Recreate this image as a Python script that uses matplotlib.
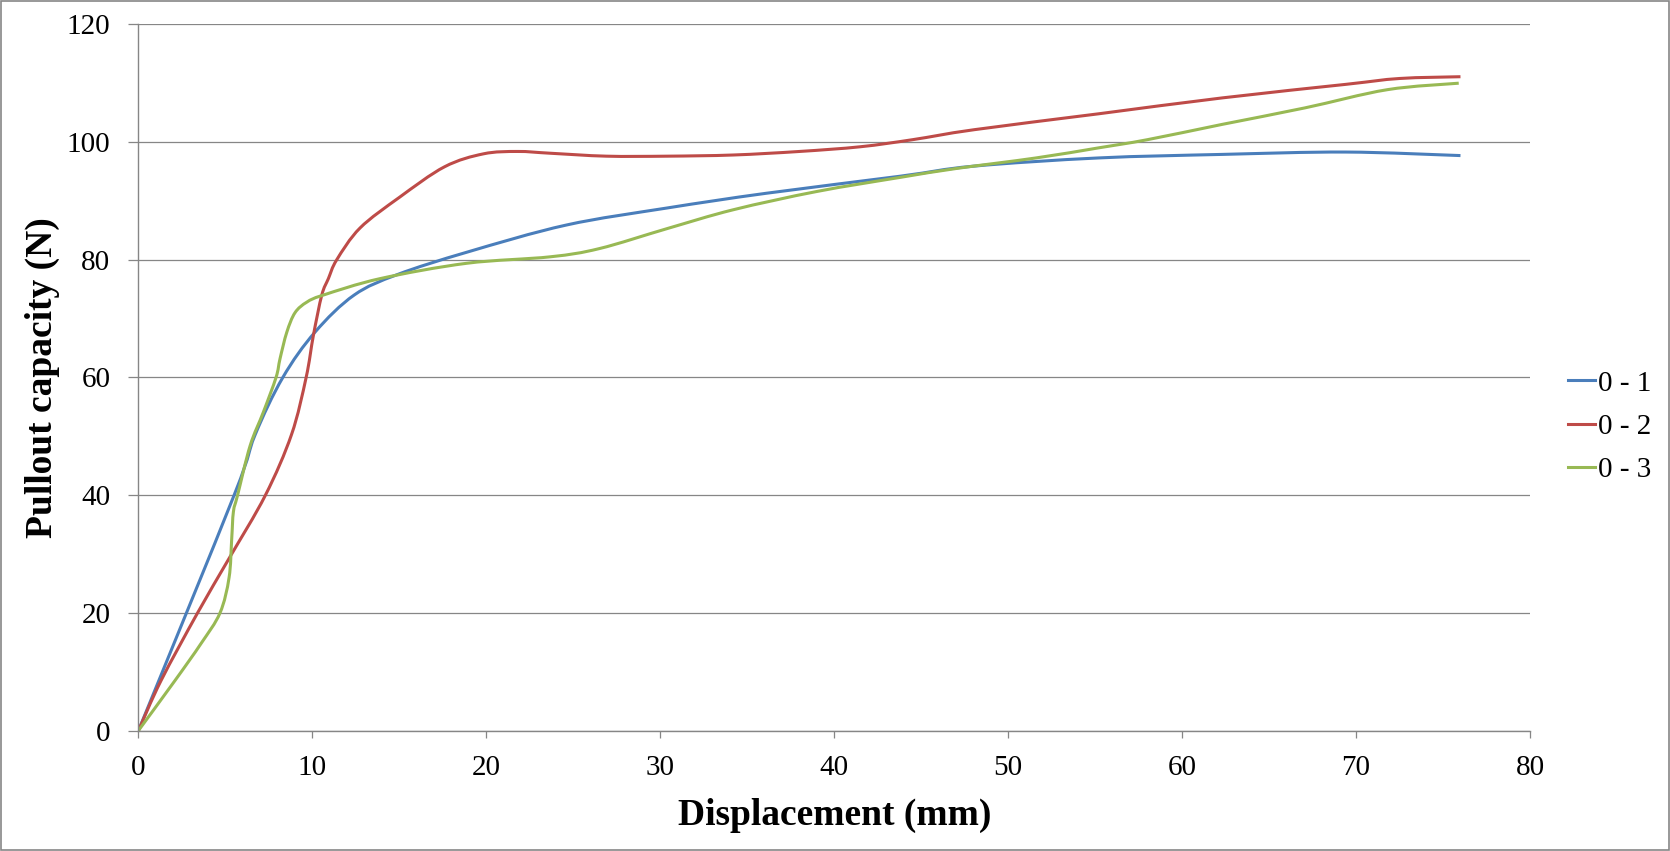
import matplotlib
matplotlib.use("Agg")
import matplotlib.pyplot as plt
from matplotlib.patches import Rectangle, PathPatch
from matplotlib.path import Path
from matplotlib.lines import Line2D

plt.rcParams['font.family'] = ['Liberation Serif', 'DejaVu Serif']

x_01 = [0, 5.5, 6.7, 8.3, 10.15, 12.4, 14.9, 18.9, 24.6, 30.4, 36.1, 43.8,
        48.0, 55.2, 62.3, 69.4, 76.0]
y_01 = [0, 40, 50.2, 60, 67.7, 74, 77.5, 81.3, 85.9, 88.8, 91.3, 94.2,
        95.9, 97.3, 97.9, 98.3, 97.7]

x_02 = [0, 1.3, 3.4, 5.2, 7.3, 8.8, 9.64, 10.06, 10.54, 10.92, 11.4, 12.74, 15.0,
        17.6, 19.84, 21.8, 23.67, 26.9, 30.4, 34.2, 38.0, 41.5, 44.5, 48.05, 55.2,
        62.3, 69.4, 72.5, 76.0]
y_02 = [0, 8.5, 20, 29.2, 40, 50.3, 60, 67.2, 74, 76.8, 80, 85.4, 90.6,
        95.8, 98.0, 98.4, 98.1, 97.6, 97.6, 97.8, 98.4, 99.2, 100.4, 102.1, 104.8,
        107.5, 109.8, 110.8, 111.1]

x_03 = [0, 2.1, 3.6, 4.69, 5.21, 5.36, 5.46, 5.7, 6.42, 7.18, 7.91, 8.14, 8.53,
        9.0, 9.68, 10.63, 13.9, 18.87, 23.67, 26.5, 30.4, 34.2, 39.0, 43.8, 47.0,
        51.6, 55.17, 58.0, 62.3, 67.05, 71.8, 75.9]
y_03 = [0, 8.5, 14.8, 20, 26, 32.5, 37.2, 40, 48.4, 54.1, 60, 63.2, 67.7,
        71.0, 72.8, 74, 76.8, 79.4, 80.5, 81.9, 85.3, 88.5, 91.6, 94.0, 95.5,
        97.3, 99.0, 100.4, 103.0, 105.8, 108.9, 110.0]

labels = ['0 - 1', '0 - 2', '0 - 3']
colors = ['#4A7EBB', '#BE4B48', '#98B954']

x_ticks = [0, 10, 20, 30, 40, 50, 60, 70, 80]
y_ticks = [0, 20, 40, 60, 80, 100, 120]


def smooth_path(xs, ys):
    # Excel-style "smoothed line": cubic bezier segments through the points
    pts = list(zip(xs, ys))
    n = len(pts)
    verts = [pts[0]]
    codes = [Path.MOVETO]
    for i in range(n - 1):
        p0 = pts[i - 1] if i > 0 else pts[i]
        p1 = pts[i]
        p2 = pts[i + 1]
        p3 = pts[i + 2] if i + 2 < n else pts[i + 1]
        c1 = (p1[0] + (p2[0] - p0[0]) / 6, p1[1] + (p2[1] - p0[1]) / 6)
        c2 = (p2[0] - (p3[0] - p1[0]) / 6, p2[1] - (p3[1] - p1[1]) / 6)
        verts += [c1, c2, p2]
        codes += [Path.CURVE4] * 3
    return Path(verts, codes)


fig = plt.figure(figsize=(16.7, 8.51), dpi=100)
ax = fig.add_axes([0.0829, 0.1415, 0.8333, 0.8299])

grid_gray = '#868686'

handles = []
for xs, ys, lab, col in zip([x_01, x_02, x_03], [y_01, y_02, y_03], labels, colors):
    ax.add_patch(PathPatch(smooth_path(xs, ys), facecolor='none', edgecolor=col,
                           lw=2.2, capstyle='butt'))
    handles.append(Line2D([], [], color=col, lw=2.2, label=lab))

ax.set_xlim(0, 80)
ax.set_ylim(0, 120)
ax.set_xticks(x_ticks)
ax.set_yticks(y_ticks)

ax.yaxis.grid(True, color=grid_gray, lw=0.9)
ax.set_axisbelow(True)

for side in ['top', 'right']:
    ax.spines[side].set_visible(False)
for side in ['left', 'bottom']:
    ax.spines[side].set_color(grid_gray)
    ax.spines[side].set_linewidth(1.0)

ax.tick_params(axis='y', length=7.2, width=0.9, color=grid_gray, pad=13, labelsize=21)
ax.tick_params(axis='x', length=4.8, width=0.9, color=grid_gray, pad=13, labelsize=21)

ax.set_xlabel('Displacement (mm)', fontsize=27, fontweight='bold', va='center')
ax.xaxis.set_label_coords(0.5, -0.1195)
ax.set_ylabel('Pullout capacity (N)', fontsize=27, fontweight='bold', va='center')
ax.yaxis.set_label_coords(-0.0688, 0.5)

ax.legend(handles=handles, loc='center left', bbox_to_anchor=(0.9387, 0.4985),
          bbox_transform=fig.transFigure, frameon=False, fontsize=21,
          handlelength=0.93, handletextpad=0.12, labelspacing=0.58,
          borderpad=0, borderaxespad=0)

# thin border around the whole chart
fig.patches.append(Rectangle((0.0006, 0.001), 0.9988, 0.998, transform=fig.transFigure,
                             fill=False, edgecolor=grid_gray, lw=1.2))

fig.savefig('out.png', dpi=100)
